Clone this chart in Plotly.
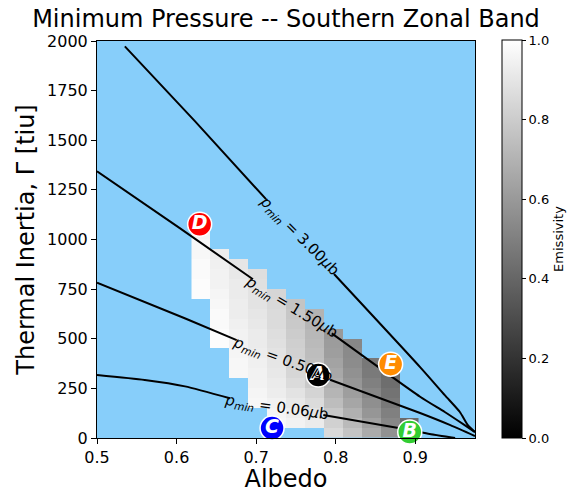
import plotly.graph_objects as go

# ---------------- data ----------------
ALBEDO_EDGES = [0.61875, 0.6425, 0.66625, 0.69, 0.71375, 0.7375, 0.76125,
                0.785, 0.80875, 0.8325, 0.85625, 0.88, 0.90375]
TI_EDGES = [0, 50, 100, 150, 200, 250, 300, 350, 400, 450, 500, 550, 600,
            650, 700, 750, 800, 850, 900, 950, 1000, 1050]
N = None
EMISSIVITY = [
    [N, N, N, N, N, N, N, 0.85, 0.77, 0.67, 0.57, 0.45],
    [N, N, N, N, 0.97, 0.95, 0.92, 0.82, 0.73, 0.63, 0.53, 0.42],
    [N, N, N, N, 0.96, 0.93, 0.89, 0.78, 0.69, 0.59, 0.50, N],
    [N, N, N, 0.97, 0.95, 0.91, 0.86, 0.74, 0.65, 0.56, 0.47, N],
    [N, N, N, 0.96, 0.93, 0.89, 0.83, 0.71, 0.62, 0.53, 0.45, N],
    [N, N, N, 0.95, 0.92, 0.86, 0.79, 0.68, 0.59, 0.50, 0.43, N],
    [N, N, 0.97, 0.95, 0.91, 0.84, 0.77, 0.66, 0.57, 0.48, 0.42, N],
    [N, N, 0.97, 0.94, 0.90, 0.83, 0.75, 0.64, 0.55, 0.47, 0.41, N],
    [N, N, 0.96, 0.93, 0.89, 0.82, 0.74, 0.62, 0.54, N, N, N],
    [N, 0.99, 0.95, 0.92, 0.88, 0.81, 0.73, 0.61, 0.53, N, N, N],
    [N, 0.99, 0.95, 0.92, 0.87, 0.80, 0.72, 0.60, N, N, N, N],
    [N, 0.98, 0.94, 0.91, 0.86, 0.79, 0.71, N, N, N, N, N],
    [N, 0.98, 0.93, 0.90, 0.86, 0.78, 0.70, N, N, N, N, N],
    [N, 0.97, 0.93, 0.89, 0.85, 0.77, N, N, N, N, N, N],
    [0.99, 0.96, 0.92, 0.89, 0.84, N, N, N, N, N, N, N],
    [0.99, 0.95, 0.92, 0.88, N, N, N, N, N, N, N, N],
    [0.98, 0.95, 0.91, 0.87, N, N, N, N, N, N, N, N],
    [0.98, 0.94, 0.90, N, N, N, N, N, N, N, N, N],
    [0.97, 0.93, N, N, N, N, N, N, N, N, N, N],
    [0.97, N, N, N, N, N, N, N, N, N, N, N],
    [0.96, N, N, N, N, N, N, N, N, N, N, N],
]

# contour lines (albedo, thermal inertia), split where labels sit
C300_A = [0.535, 0.623, 0.7124]
C300_T = [1973, 1596, 1203]
C300_A2 = [0.7978, 0.906, 0.937, 0.956, 0.966, 0.975]
C300_T2 = [826, 357, 216, 131, 65, 30]

C150_A = [0.5, 0.604, 0.696]
C150_T = [1344, 1057, 800]
C150_A2 = [0.795, 0.906, 0.937, 0.962, 0.975]
C150_T2 = [527, 208, 131, 65, 30]

C050_A = [0.5, 0.611, 0.6755]
C050_T = [782, 602, 493]
C050_A2 = [0.7886, 0.906, 0.944, 0.975]
C050_T2 = [300, 126, 65, 10]

C006_A = [0.5, 0.56, 0.6106, 0.667]
C006_T = [317, 292, 260, 200]
C006_A2 = [0.7844, 0.8933, 0.918, 0.95]
C006_T2 = [116, 40, 20, 0]

LABEL_TEXT = ["3.00", "1.50", "0.50", "0.06"]
LABEL_A = [0.755, 0.745, 0.7325, 0.725]
LABEL_T = [1017, 659, 393, 156]
LABEL_ANGLE = [45, 31, 20, 8]

SITE_NAMES = ["A", "B", "C", "D", "E"]
SITE_A = [0.778, 0.893, 0.72, 0.629, 0.869]
SITE_T = [317, 30, 50, 1077, 372]
SITE_COLORS = ["black", "#32CD32", "#0000FF", "#FF0000", "#FF8C00"]

FONT = "DejaVu Sans"

fig = go.Figure()
fig.add_trace(go.Heatmap(
    x=ALBEDO_EDGES, y=TI_EDGES, z=EMISSIVITY,
    colorscale=[[0, "black"], [1, "white"]], zmin=0, zmax=1,
    hoverongaps=False,
    colorbar=dict(
        thickness=20, len=398, lenmode="pixels", y=0, yanchor="bottom",
        x=1.071, xanchor="left", xpad=0, ypad=0,
        outlinecolor="black", outlinewidth=1,
        tickvals=[0, 0.2, 0.4, 0.6, 0.8, 1.0], tickformat=".1f",
        ticks="outside", ticklen=4, tickcolor="black",
        tickfont=dict(family=FONT, size=13, color="black"),
        title=dict(text="Emissivity", side="right",
                   font=dict(family=FONT, size=13, color="black")),
    ),
))

for xa, ta in [(C300_A, C300_T), (C300_A2, C300_T2), (C150_A, C150_T),
               (C150_A2, C150_T2), (C050_A, C050_T), (C050_A2, C050_T2),
               (C006_A, C006_T), (C006_A2, C006_T2)]:
    fig.add_trace(go.Scatter(x=xa, y=ta, mode="lines",
                             line=dict(color="black", width=2, shape="spline", smoothing=0.6),
                             showlegend=False, hoverinfo="skip"))

for txt, la, lt, ang in zip(LABEL_TEXT, LABEL_A, LABEL_T, LABEL_ANGLE):
    fig.add_annotation(x=la, y=lt, xref="x", yref="y", showarrow=False,
                       text="<i>p</i><sub><i>min</i></sub> = " + txt + "<i>μ</i>b",
                       textangle=ang,
                       font=dict(family=FONT, size=15, color="black"))

fig.add_trace(go.Scatter(
    x=SITE_A, y=SITE_T, mode="markers+text", text=SITE_NAMES,
    textposition="middle center",
    textfont=dict(family=FONT, size=19, color="white", weight="bold", style="italic"),
    marker=dict(size=24, color=SITE_COLORS, line=dict(color="white", width=1.5)),
    showlegend=False, hoverinfo="skip", cliponaxis=False,
))

fig.update_layout(
    width=579, height=493,
    margin=dict(l=97, r=104, t=41, b=55, autoexpand=False),
    paper_bgcolor="white", plot_bgcolor="#87CEFA",
    showlegend=False,
    title=dict(text="Minimum Pressure -- Southern Zonal Band",
               x=(97 + 378 / 2) / 579, xanchor="center",
               y=1 - 19 / 493, yanchor="middle",
               font=dict(family=FONT, size=24, color="black")),
    font=dict(family=FONT, color="black"),
)
fig.update_xaxes(range=[0.5, 0.975], tickvals=[0.5, 0.6, 0.7, 0.8, 0.9],
                 ticktext=["0.5", "0.6", "0.7", "0.8", "0.9"],
                 ticks="outside", ticklen=5, tickcolor="black", automargin=False,
                 showline=True, linecolor="black", linewidth=1, mirror=True,
                 showgrid=False, zeroline=False,
                 tickfont=dict(family=FONT, size=16, color="black"),
                 title=dict(text="Albedo", standoff=7,
                            font=dict(family=FONT, size=24, color="black")))
fig.update_yaxes(range=[0, 2000], tickvals=[0, 250, 500, 750, 1000, 1250, 1500, 1750, 2000],
                 ticks="outside", ticklen=5, tickcolor="black", automargin=False,
                 showline=True, linecolor="black", linewidth=1, mirror=True,
                 showgrid=False, zeroline=False,
                 tickfont=dict(family=FONT, size=16, color="black"),
                 title=dict(text="Thermal Inertia, Γ [tiu]", standoff=5,
                            font=dict(family=FONT, size=24, color="black")))

fig.write_html("out.html", config={"displayModeBar": False},
               post_script="document.body.style.margin='0';")
